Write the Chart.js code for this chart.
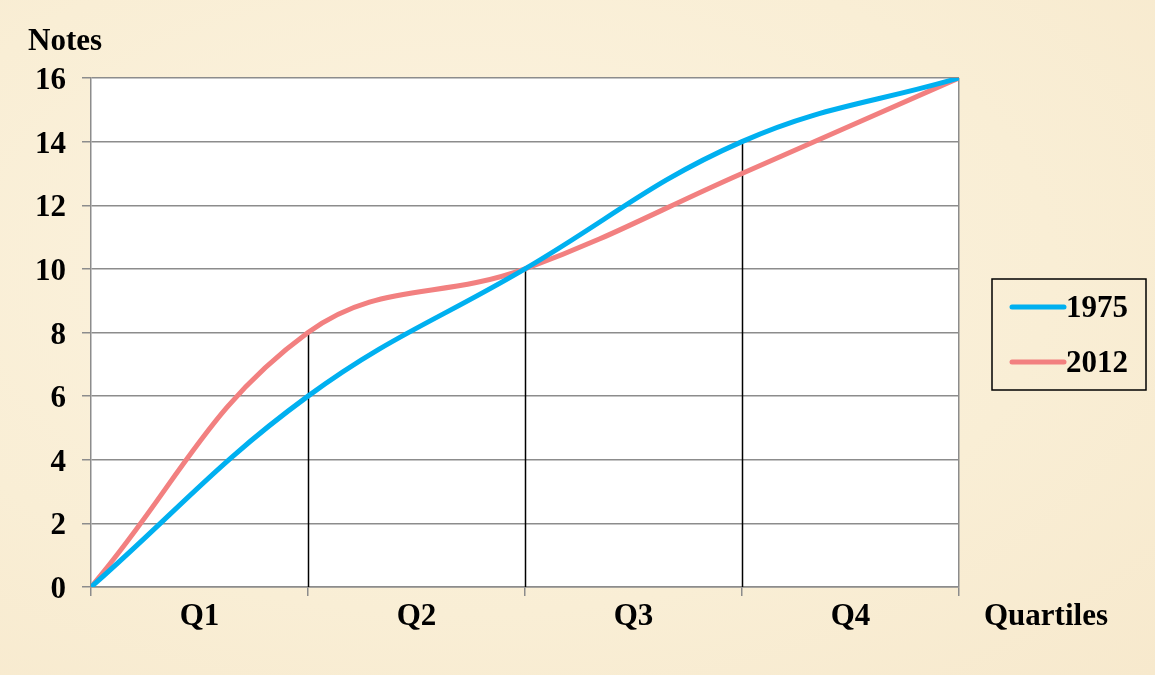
<!DOCTYPE html>
<html>
<head>
<meta charset="utf-8">
<script src="https://cdn.jsdelivr.net/npm/chart.js@4"></script>
<style>
    html, body { margin: 0; padding: 0; }
    body {
        width: 1155px; height: 675px; overflow: hidden;
        background: radial-gradient(ellipse at 40% 40%, #fcf3e0 0%, #f9eed5 60%, #f7e9cd 100%);
    }
    #wrap { position: relative; width: 1155px; height: 675px; }
</style>
</head>
<body>
<div id="wrap"><canvas id="quartileChart" width="1155" height="675"></canvas></div>
<script>
// Quartile boundaries (x) and cumulative notes per series
const boundaries = [0, 1, 2, 3, 4];
const quartileLabels = ['Q1', 'Q2', 'Q3', 'Q4'];
const notes1975 = [0, 6, 10, 14, 16];
const notes2012 = [0, 8, 10, 13, 16];
const yTicks = [0, 2, 4, 6, 8, 10, 12, 14, 16];

const FONT = "'Liberation Serif', 'Times New Roman', serif";
const FONT_SIZE = 31;
const GRID = '#8c8c8c';

// White plot area, drop lines, quartile labels, axis titles, boxed legend
const decorPlugin = {
    id: 'decor',
    beforeDraw(chart) {
        const { ctx, chartArea: a } = chart;
        ctx.save();
        ctx.fillStyle = '#fff';
        ctx.fillRect(a.left, a.top, a.right - a.left, a.bottom - a.top);
        ctx.restore();
    },
    beforeDatasetsDraw(chart) {
        const { ctx, scales: { x, y } } = chart;
        ctx.save();
        ctx.strokeStyle = '#000';
        ctx.lineWidth = 1.5;
        for (let i = 1; i < boundaries.length - 1; i++) {
            const top = Math.max(notes1975[i], notes2012[i]);
            const px = Math.round(x.getPixelForValue(boundaries[i])) + 0.5;
            ctx.beginPath();
            ctx.moveTo(px, y.getPixelForValue(top));
            ctx.lineTo(px, y.getPixelForValue(0));
            ctx.stroke();
        }
        ctx.restore();
    },
    afterDraw(chart) {
        const { ctx, scales: { x } } = chart;
        ctx.save();
        ctx.fillStyle = '#000';
        ctx.font = 'bold ' + FONT_SIZE + 'px ' + FONT;
        ctx.textBaseline = 'middle';

        // quartile labels centred between boundaries
        ctx.textAlign = 'center';
        quartileLabels.forEach((lab, i) => {
            const cx = x.getPixelForValue((boundaries[i] + boundaries[i + 1]) / 2);
            ctx.fillText(lab, cx, 617);
        });

        ctx.textAlign = 'left';
        ctx.fillText('Notes', 28, 42);
        ctx.fillText('Quartiles', 984, 617);

        // legend box
        ctx.strokeStyle = '#000';
        ctx.lineWidth = 1.5;
        ctx.strokeRect(992, 279, 154, 111);
        chart.data.datasets.forEach((ds, i) => {
            const ly = 307 + i * 55;
            ctx.strokeStyle = ds.borderColor;
            ctx.lineWidth = 5;
            ctx.lineCap = 'round';
            ctx.beginPath();
            ctx.moveTo(1012, ly);
            ctx.lineTo(1064, ly);
            ctx.stroke();
            ctx.fillText(ds.label, 1066, ly + 2);
        });
        ctx.restore();
    }
};

new Chart(document.getElementById('quartileChart').getContext('2d'), {
    type: 'line',
    data: {
        datasets: [
            {
                label: '1975',
                data: boundaries.map((b, i) => ({ x: b, y: notes1975[i] })),
                borderColor: '#00b0f0',
                borderWidth: 5,
                pointRadius: 0,
                tension: 0.4,
                fill: false
            },
            {
                label: '2012',
                data: boundaries.map((b, i) => ({ x: b, y: notes2012[i] })),
                borderColor: '#f28080',
                borderWidth: 5,
                pointRadius: 0,
                tension: 0.4,
                fill: false
            }
        ]
    },
    options: {
        responsive: false,
        animation: false,
        devicePixelRatio: 1,
        layout: { padding: { top: 78, right: 196, left: 0, bottom: 0 } },
        plugins: { legend: { display: false }, tooltip: { enabled: false } },
        scales: {
            x: {
                type: 'linear',
                min: 0,
                max: 4,
                afterBuildTicks: (s) => { s.ticks = boundaries.map(v => ({ value: v })); },
                afterFit: (s) => { s.height = 88; },
                grid: {
                    drawOnChartArea: true,
                    color: (c) => c.tick && c.tick.value === 4 ? GRID : 'rgba(0,0,0,0)',
                    tickColor: GRID,
                    tickLength: 9,
                    lineWidth: 1.5
                },
                border: { color: GRID, width: 1.5 },
                ticks: { callback: () => '' }
            },
            y: {
                min: 0,
                max: 16,
                afterBuildTicks: (s) => { s.ticks = yTicks.map(v => ({ value: v })); },
                afterFit: (s) => { s.width = 91; },
                grid: { color: GRID, tickColor: GRID, tickLength: 9, lineWidth: 1.5 },
                border: { color: GRID, width: 1.5 },
                ticks: {
                    color: '#000',
                    padding: 16,
                    labelOffset: 3,
                    font: { family: FONT, size: FONT_SIZE, weight: 'bold' }
                }
            }
        }
    },
    plugins: [decorPlugin]
});
</script>
</body>
</html>
